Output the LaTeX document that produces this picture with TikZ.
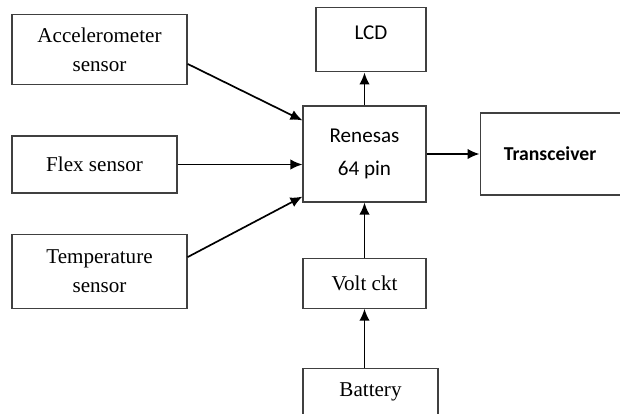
\documentclass[tikz,border=0pt]{standalone}
\usepackage{fontspec}
\setmainfont{Liberation Serif}
\newfontfamily\calibri{Carlito}
\usepackage{tikz}
\usetikzlibrary{positioning,arrows.meta}
\definecolor{boxrule}{RGB}{64,64,64}
\tikzset{
  block/.style={rectangle,draw=boxrule,line width=0.8pt,align=center,inner sep=2pt,font=\fontsize{15}{20.5}\selectfont},
  cblock/.style={block,font=\calibri\fontsize{15}{23.5}\selectfont},
  edge/.style={-{Latex[length=3mm,width=2.6mm]},line width=1.2pt}
}
\begin{document}
\begin{tikzpicture}
  \useasboundingbox (0,0) rectangle (15.5,-10.325);
  % controller column
  \node[cblock,minimum width=3.075cm,minimum height=2.4cm] (renesas) at (9.1125,-3.85) {Renesas\\64 pin};
  \node[cblock,minimum width=2.75cm,inner sep=0pt,text height=0.8cm,text depth=0.8cm,above left=0.825cm and 0cm of renesas.north east] (lcd) {LCD};
  \node[cblock,font=\calibri\bfseries\fontsize{14}{17}\selectfont,minimum width=3.5cm,minimum height=2.05cm,right=1.325cm of renesas] (trans) {Transceiver};
  \node[block,minimum width=3.075cm,minimum height=1.25cm,below=1.375cm of renesas] (volt) {Volt ckt};
  \node[block,minimum width=3.375cm,minimum height=1.175cm,below right=1.475cm and 0cm of volt.south west] (battery) {Battery};
  % sensors
  \node[block,minimum width=4.125cm,minimum height=1.425cm] (flex) at (2.3625,-4.1125) {Flex sensor};
  \node[block,minimum width=4.375cm,minimum height=1.75cm,above right=1.25cm and 0cm of flex.north west] (accel) {Accelerometer\\sensor};
  \node[block,minimum width=4.375cm,minimum height=1.85cm,below right=1cm and 0cm of flex.south west] (temp) {Temperature\\sensor};
  \draw[edge] ([yshift=-3.5mm]accel.east) -- ([yshift=-3.75mm]renesas.north west);
  \draw[edge] (flex) -- (flex -| renesas.west);
  \draw[edge] ([yshift=3.5mm]temp.east) -- ([yshift=1.5mm]renesas.south west);
  \draw[edge] (renesas) -- (renesas |- lcd.south);
  \draw[edge] (renesas) -- (trans);
  \draw[edge] (volt) -- (renesas);
  \draw[edge] (battery.north -| volt) -- (volt);
\end{tikzpicture}
\end{document}
